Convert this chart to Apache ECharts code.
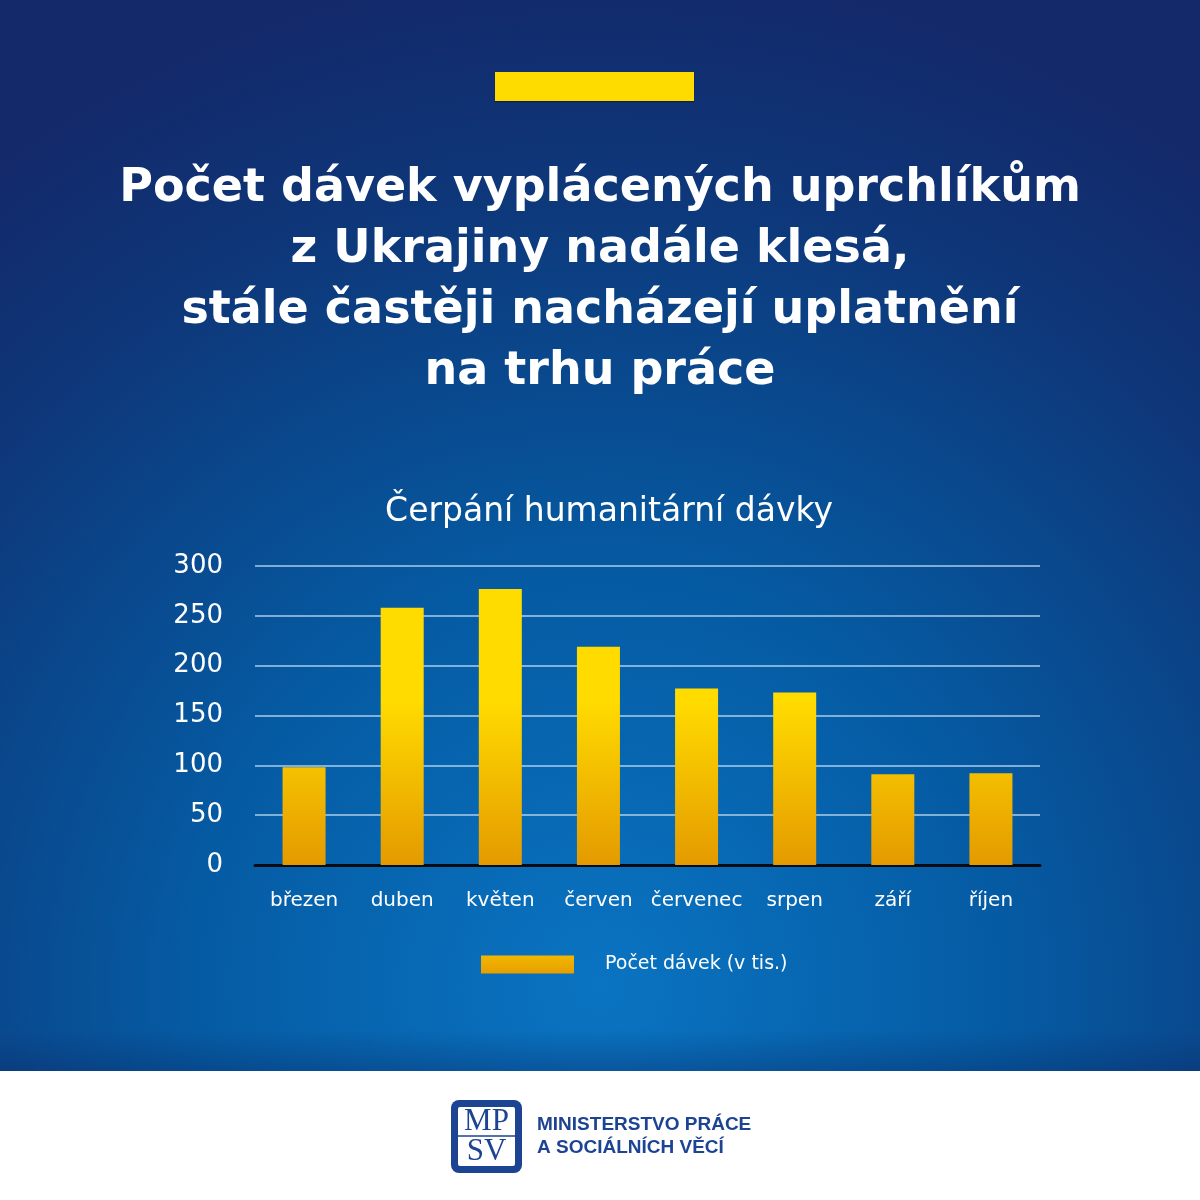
<!DOCTYPE html>
<html><head><meta charset="utf-8">
<script src="https://cdn.jsdelivr.net/npm/echarts@6/dist/echarts.min.js"></script>
<style>html,body{margin:0;padding:0;background:#fff}#c{width:1200px;height:1200px}</style>
</head><body><div id="c"></div>
<script>
const categories = ['březen','duben','květen','červen','červenec','srpen','září','říjen'];
const values = [98, 258, 277, 219, 177, 173, 91, 92];
const yTicks = [0, 50, 100, 150, 200, 250, 300];
const seriesName = 'Počet dávek (v tis.)';
const mainTitleLines = ['Počet dávek vyplácených uprchlíkům', 'z Ukrajiny nadále klesá,', 'stále častěji nacházejí uplatnění', 'na trhu práce'];
const chartTitle = 'Čerpání humanitární dávky';

const FONT = '"DejaVu Sans", sans-serif';
const titleEls = mainTitleLines.map((t, i) => ({
  type: 'text', z: 20,
  style: {text: t, x: 600, y: 189 + i * 61, align: 'center', verticalAlign: 'middle', fill: '#fff',
          font: 'bold 46px "DejaVu Sans", sans-serif'}
}));
const chart = echarts.init(document.getElementById('c'));
chart.setOption({
  animation: false,
  backgroundColor: '#ffffff',
  graphic: {elements: [
    {type: 'rect', z: -100, shape: {x: 0, y: 0, width: 1200, height: 1071},
     style: {fill: {type: 'radial', x: 0.5, y: 0.92, r: 0.95, colorStops: [
       {offset: 0, color: '#0a74c2'}, {offset: 0.4, color: '#055ba3'}, {offset: 0.8, color: '#0e3678'}, {offset: 1, color: '#13296a'}]}}},
    {type: 'rect', z: -99, shape: {x: 0, y: 1030, width: 1200, height: 41},
     style: {fill: {type: 'linear', x: 0, y: 0, x2: 0, y2: 1, colorStops: [
       {offset: 0, color: 'rgba(10,40,100,0)'}, {offset: 1, color: 'rgba(10,40,100,0.35)'}]}}},
    {type: 'rect', z: 10, shape: {x: 495, y: 72, width: 199, height: 29},
     style: {fill: '#ffdc00', shadowColor: 'rgba(0,0,0,0.35)', shadowOffsetY: 1, shadowBlur: 1}},
    ...titleEls,
    {type: 'text', z: 20, style: {text: chartTitle, x: 609, y: 512, align: 'center', verticalAlign: 'middle', fill: '#fff',
      font: '33px "DejaVu Sans", sans-serif'}},
    // logo
    {type: 'rect', z: 10, shape: {x: 451, y: 1100, width: 71, height: 73, r: 8}, style: {fill: '#1d4393'}},
    {type: 'rect', z: 11, shape: {x: 458, y: 1107, width: 57, height: 59, r: 2}, style: {fill: '#ffffff'}},
    {type: 'line', z: 12, shape: {x1: 458, y1: 1136, x2: 515, y2: 1136}, style: {stroke: '#1d4393', lineWidth: 1.5}},
    {type: 'text', z: 12, style: {text: 'MP', x: 486.5, y: 1122, align: 'center', verticalAlign: 'middle', fill: '#1d4393', font: '31px "Liberation Serif", serif'}},
    {type: 'text', z: 12, style: {text: 'SV', x: 486.5, y: 1152, align: 'center', verticalAlign: 'middle', fill: '#1d4393', font: '31px "Liberation Serif", serif'}},
    {type: 'text', z: 12, style: {text: 'MINISTERSTVO PRÁCE', x: 537, y: 1125, verticalAlign: 'middle', fill: '#1d4393', font: 'bold 19px "Liberation Sans", Arial, sans-serif'}},
    {type: 'text', z: 12, style: {text: 'A SOCIÁLNÍCH VĚCÍ', x: 537, y: 1148, verticalAlign: 'middle', fill: '#1d4393', font: 'bold 19px "Liberation Sans", Arial, sans-serif'}}
  ]},
  legend: {
    data: [{name: seriesName, itemStyle: {color: {type: 'linear', x: 0, y: 0, x2: 0, y2: 1, colorStops: [
      {offset: 0, color: '#f2b700'}, {offset: 1, color: '#e59f00'}]}}}],
    left: 476, top: 950, icon: 'rect', itemWidth: 93, itemHeight: 18,
    textStyle: {color: '#fff', fontFamily: FONT, fontSize: 19, padding: [0, 0, 0, 26]}
  },
  grid: {left: 255, right: 160, top: 566, bottom: 335},
  xAxis: {
    type: 'category', data: categories,
    axisLine: {lineStyle: {color: '#0b0b14', width: 3}},
    axisTick: {show: false},
    axisLabel: {color: '#fff', fontFamily: FONT, fontSize: 20, margin: 26, interval: 0}
  },
  yAxis: {
    type: 'value', min: 0, max: 300, interval: 50,
    axisLine: {show: false}, axisTick: {show: false},
    axisLabel: {color: '#fff', fontFamily: FONT, fontSize: 26, margin: 32,
      formatter: v => yTicks.includes(v) ? String(v) : ''},
    splitLine: {lineStyle: {color: 'rgba(200,225,245,0.85)', width: 1.5}}
  },
  series: [{
    name: seriesName, type: 'bar', data: values, barWidth: 43,
    itemStyle: {color: {type: 'linear', global: true, x: 0, y: 566, x2: 0, y2: 865, colorStops: [
      {offset: 0, color: '#ffdc00'}, {offset: 0.45, color: '#ffdb00'}, {offset: 1, color: '#e49a00'}]}}
  }]
});
</script></body></html>
